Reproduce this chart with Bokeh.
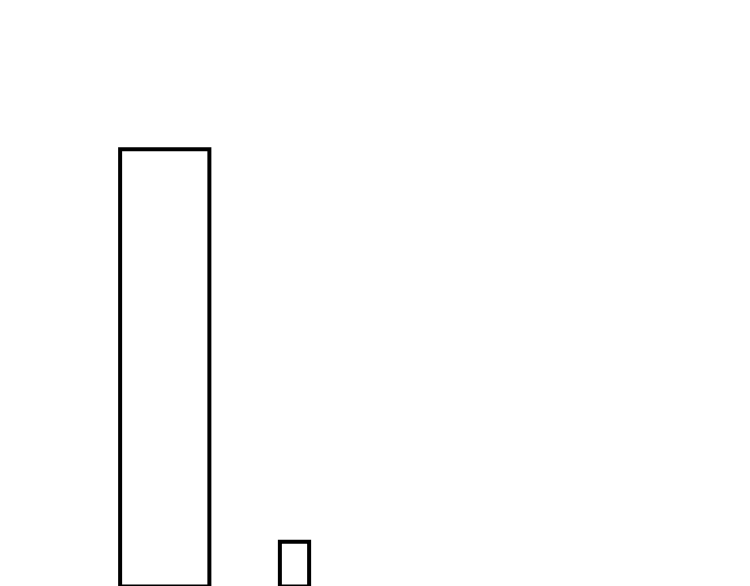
from bokeh.plotting import figure
from bokeh.models import Range1d, ColumnDataSource
from bokeh.embed import file_html
from bokeh.resources import INLINE

# data
bar_x = [2.19, 3.92]
bar_width = [1.19, 0.39]
bar_value = [75.9, 12.25]

source = ColumnDataSource(dict(x=bar_x, w=bar_width, top=bar_value))

p = figure(width=750, height=586, output_backend="svg", toolbar_location=None,
           x_range=Range1d(0, 10), y_range=Range1d(5, 100),
           min_border=0, min_border_left=0, min_border_right=0,
           min_border_top=0, min_border_bottom=0)
p.xaxis.visible = False
p.yaxis.visible = False
p.grid.visible = False
p.outline_line_color = None
p.background_fill_color = "white"
p.border_fill_color = "white"

p.vbar(x="x", width="w", top="top", bottom=-100, source=source,
       fill_color="white", line_color="black", line_width=4, line_join="miter")

open("out.html", "w").write(file_html(p, INLINE))
